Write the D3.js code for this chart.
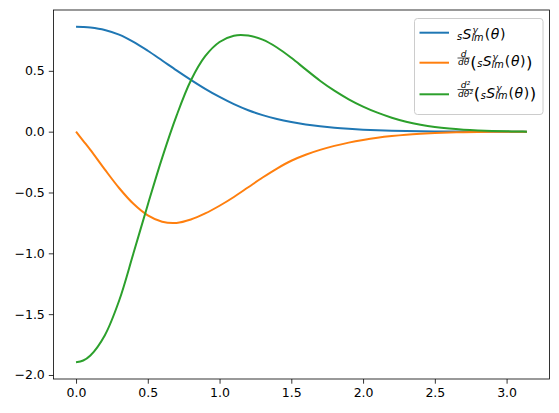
<!DOCTYPE html>
<html>
<head>
<meta charset="utf-8">
<script src="https://cdn.jsdelivr.net/npm/d3@7"></script>
<style>
body { margin: 0; background: #fff; }
text { font-family: "DejaVu Sans", sans-serif; }
</style>
</head>
<body>
<div id="graph"></div>
<script>
// theta samples (0 .. pi) and the three curves
var theta = [0, 0.05, 0.1, 0.2, 0.3, 0.4, 0.5, 0.6, 0.7, 0.8, 0.9, 1.0, 1.1, 1.2, 1.3, 1.4, 1.5,
  1.6, 1.7, 1.8, 1.9, 2.0, 2.1, 2.2, 2.3, 2.4, 2.5, 2.6, 2.7, 2.8, 2.9, 3.0, 3.1, 3.1416];
var S = [0.862, 0.8605, 0.856, 0.836, 0.797, 0.738, 0.665, 0.585, 0.504, 0.426, 0.352, 0.285, 0.226,
  0.176, 0.136, 0.104, 0.079, 0.059, 0.044, 0.032, 0.023, 0.016, 0.011, 0.0075, 0.005, 0.0033,
  0.0021, 0.0013, 0.0008, 0.0005, 0.0003, 0.0001, 0, 0];
var dS = [0, -0.075, -0.150, -0.310, -0.463, -0.593, -0.688, -0.740, -0.750, -0.722, -0.672, -0.609,
  -0.537, -0.457, -0.377, -0.303, -0.239, -0.190, -0.150, -0.117, -0.090, -0.068, -0.050,
  -0.036, -0.025, -0.017, -0.011, -0.007, -0.004, -0.002, -0.001, -0.0005, 0, 0];
var d2S = [-1.895, -1.881, -1.840, -1.675, -1.390, -1.000, -0.600, -0.215, 0.130, 0.420, 0.620, 0.737,
  0.789, 0.790, 0.756, 0.692, 0.607, 0.512, 0.419, 0.337, 0.266, 0.206, 0.156, 0.115, 0.082,
  0.057, 0.038, 0.025, 0.016, 0.010, 0.006, 0.003, 0.001, 0];
var xTicks = [0, 0.5, 1.0, 1.5, 2.0, 2.5, 3.0];
var yTicks = [-2.0, -1.5, -1.0, -0.5, 0.0, 0.5];
var colors = ['#1f77b4', '#ff7f0e', '#2ca02c'];

var svgWidth = 559, svgHeight = 413;
var svg = d3.select('#graph').append('svg').attr('width', svgWidth).attr('height', svgHeight);
var pLeft = 53.5, pRight = 549.5, pTop = 10, pBottom = 379;

var x = d3.scaleLinear().domain([-0.157, 3.299]).range([pLeft, pRight]);
var y = d3.scaleLinear().domain([-2.033, 1.0]).range([pBottom, pTop]);

var series = [S, dS, d2S];
series.forEach(function(vals, i) {
  var line = d3.line()
    .x(function(d, j) { return x(theta[j]); })
    .y(function(d) { return y(d); })
    .curve(d3.curveCatmullRom);
  svg.append('path')
    .attr('d', line(vals))
    .attr('fill', 'none')
    .attr('stroke', colors[i])
    .attr('stroke-width', 2);
});

// axes
var fmt = d3.format('.1f');
var xa = svg.append('g').attr('transform', 'translate(0,' + pBottom + ')')
  .call(d3.axisBottom(x).tickValues(xTicks).tickFormat(fmt).tickSizeOuter(0).tickSize(4.7).tickPadding(4));
var ya = svg.append('g').attr('transform', 'translate(' + pLeft + ',0)')
  .call(d3.axisLeft(y).tickValues(yTicks).tickFormat(fmt).tickSizeOuter(0).tickSize(4.7).tickPadding(4));
[xa, ya].forEach(function(a) {
  a.select('.domain').remove();
  a.selectAll('line').attr('stroke', '#000').attr('stroke-width', 0.8);
  a.selectAll('text').attr('fill', '#000').style('font-size', '12.5px').style('font-family', '"DejaVu Sans", sans-serif');
});
svg.append('rect').attr('x', pLeft).attr('y', pTop).attr('width', pRight - pLeft).attr('height', pBottom - pTop)
  .attr('fill', 'none').attr('stroke', '#000').attr('stroke-width', 0.8);

// legend
var lg = svg.append('g');
lg.append('rect').attr('x', 414.5).attr('y', 18.5).attr('width', 128.5).attr('height', 96)
  .attr('rx', 3).attr('fill', '#fff').attr('fill-opacity', 0.8).attr('stroke', '#ccc').attr('stroke-width', 1);

function put(g, px, py, str, size, italic) {
  var t = g.append('text').attr('x', px).attr('y', py)
    .style('font-size', size + 'px').style('font-style', italic ? 'italic' : 'normal').text(str);
  return px + t.node().getComputedTextLength();
}
function slm(g, px, py, fs) {
  px = put(g, px, py + 1.2, 's', fs * 0.7, true);
  px = put(g, px + 0.4, py, 'S', fs, true);
  var a = put(g, px + 1, py - fs * 0.45, 'γ', fs * 0.65, true);
  var b = put(g, px, py + 1.5, 'lm', fs * 0.7, true);
  px = Math.max(a, b) + 1;
  px = put(g, px, py, '(', fs, false);
  px = put(g, px + 0.6, py, 'θ', fs, true);
  px = put(g, px + 0.6, py, ')', fs, false);
  return px;
}
function frac(g, px, py, num, den) {
  var fs = 9;
  var ly = py - 8;
  var tn = g.append('text').style('font-size', fs + 'px').style('font-style', 'italic').text(num);
  var td = g.append('text').style('font-size', fs + 'px').style('font-style', 'italic').text(den);
  var w = Math.max(tn.node().getComputedTextLength(), td.node().getComputedTextLength()) + 1;
  tn.attr('x', px + w / 2).attr('y', ly - 1.3).attr('text-anchor', 'middle');
  td.attr('x', px + w / 2).attr('y', ly + 7).attr('text-anchor', 'middle');
  g.append('line').attr('x1', px).attr('x2', px + w).attr('y1', ly).attr('y2', ly)
    .attr('stroke', '#000').attr('stroke-width', 0.7);
  return px + w;
}

var fsL = 14;
var lineY = [32.7, 62.7, 94.3];
var baseY = [39, 66, 97.5];
lineY.forEach(function(ly, i) {
  lg.append('line').attr('x1', 419.5).attr('x2', 449).attr('y1', ly).attr('y2', ly)
    .attr('stroke', colors[i]).attr('stroke-width', 2);
});
slm(lg, 457, baseY[0], fsL);
[1, 2].forEach(function(i) {
  var px = frac(lg, 457.5, baseY[i], 'd' + (i === 2 ? '²' : ''), 'dθ' + (i === 2 ? '²' : ''));
  px = put(lg, px + 0.5, baseY[i] + 1.5, '(', 16.5, false);
  px = slm(lg, px + 0.5, baseY[i], fsL);
  put(lg, px + 0.5, baseY[i] + 1.5, ')', 16.5, false);
});
</script>
</body>
</html>
